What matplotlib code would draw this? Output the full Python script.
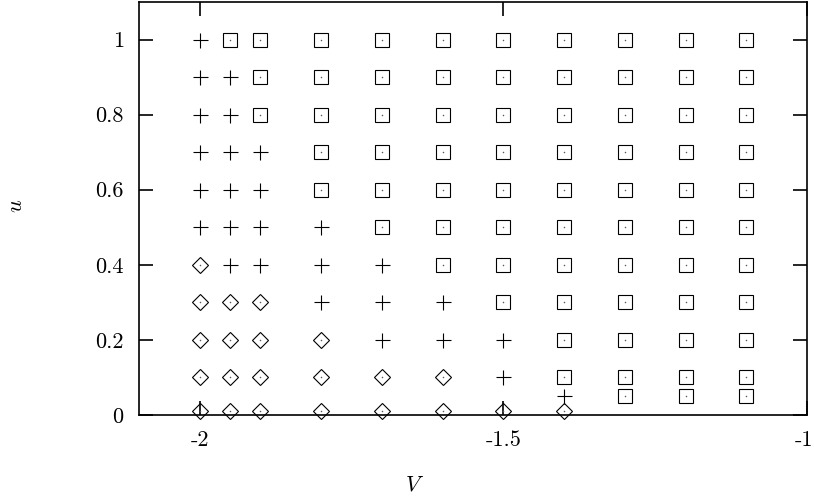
import matplotlib
matplotlib.use("Agg")
import matplotlib.pyplot as plt
from matplotlib.transforms import ScaledTranslation

plt.rcParams["mathtext.fontset"] = "cm"
plt.rcParams["axes.unicode_minus"] = False

# Points where the state is "+"
plus_V = [-2.0, -2.0, -2.0, -2.0, -2.0, -2.0,
          -1.95, -1.95, -1.95, -1.95, -1.95, -1.95,
          -1.9, -1.9, -1.9, -1.9,
          -1.8, -1.8, -1.8,
          -1.7, -1.7, -1.7,
          -1.6, -1.6,
          -1.5, -1.5,
          -1.4]
plus_u = [1.0, 0.9, 0.8, 0.7, 0.6, 0.5,
          0.9, 0.8, 0.7, 0.6, 0.5, 0.4,
          0.7, 0.6, 0.5, 0.4,
          0.5, 0.4, 0.3,
          0.4, 0.3, 0.2,
          0.3, 0.2,
          0.2, 0.1,
          0.05]

# Points where the state is a diamond
diamond_V = [-2.0, -2.0, -2.0, -2.0, -2.0,
             -1.95, -1.95, -1.95, -1.95,
             -1.9, -1.9, -1.9, -1.9,
             -1.8, -1.8, -1.8,
             -1.7, -1.7,
             -1.6, -1.6,
             -1.5,
             -1.4]
diamond_u = [0.4, 0.3, 0.2, 0.1, 0.01,
             0.3, 0.2, 0.1, 0.01,
             0.3, 0.2, 0.1, 0.01,
             0.2, 0.1, 0.01,
             0.1, 0.01,
             0.1, 0.01,
             0.01,
             0.01]

# Points where the state is a square
square_V = [-1.95,
            -1.9, -1.9, -1.9,
            -1.8, -1.8, -1.8, -1.8, -1.8,
            -1.7, -1.7, -1.7, -1.7, -1.7, -1.7,
            -1.6, -1.6, -1.6, -1.6, -1.6, -1.6, -1.6,
            -1.5, -1.5, -1.5, -1.5, -1.5, -1.5, -1.5, -1.5,
            -1.4, -1.4, -1.4, -1.4, -1.4, -1.4, -1.4, -1.4, -1.4, -1.4,
            -1.3, -1.3, -1.3, -1.3, -1.3, -1.3, -1.3, -1.3, -1.3, -1.3, -1.3,
            -1.2, -1.2, -1.2, -1.2, -1.2, -1.2, -1.2, -1.2, -1.2, -1.2, -1.2,
            -1.1, -1.1, -1.1, -1.1, -1.1, -1.1, -1.1, -1.1, -1.1, -1.1, -1.1]
square_u = [1.0,
            1.0, 0.9, 0.8,
            1.0, 0.9, 0.8, 0.7, 0.6,
            1.0, 0.9, 0.8, 0.7, 0.6, 0.5,
            1.0, 0.9, 0.8, 0.7, 0.6, 0.5, 0.4,
            1.0, 0.9, 0.8, 0.7, 0.6, 0.5, 0.4, 0.3,
            1.0, 0.9, 0.8, 0.7, 0.6, 0.5, 0.4, 0.3, 0.2, 0.1,
            1.0, 0.9, 0.8, 0.7, 0.6, 0.5, 0.4, 0.3, 0.2, 0.1, 0.05,
            1.0, 0.9, 0.8, 0.7, 0.6, 0.5, 0.4, 0.3, 0.2, 0.1, 0.05,
            1.0, 0.9, 0.8, 0.7, 0.6, 0.5, 0.4, 0.3, 0.2, 0.1, 0.05]

x_ticks = [-2.0, -1.5, -1.0]
x_tick_labels = ["-2", "-1.5", "-1"]
y_ticks = [0.0, 0.2, 0.4, 0.6, 0.8, 1.0]
y_tick_labels = ["0", "0.2", "0.4", "0.6", "0.8", "1"]

fig = plt.figure(figsize=(8.14, 4.98), dpi=100)
ax = fig.add_axes([139 / 814, 1 - 415 / 498, 668 / 814, 413 / 498])

mk = dict(linestyle="none", markerfacecolor="none", markeredgecolor="black",
          markeredgewidth=0.8, clip_on=False, zorder=3)
ax.plot(plus_V, plus_u, marker="+", markersize=10.8, **mk)
ax.plot(square_V, square_u, marker="s", markersize=10.4, **mk)
ax.plot(diamond_V, diamond_u, marker="D", markersize=7.8, **mk)

# small centre dot inside squares and diamonds
dot = dict(linestyle="none", marker="o", markersize=1.1, markeredgewidth=0,
           color="0.35", clip_on=False, zorder=3)
ax.plot(square_V, square_u, **dot)
ax.plot(diamond_V, diamond_u, **dot)

ax.set_xlim(-2.1, -1.0)
ax.set_ylim(0.0, 1.1)

ax.set_xticks(x_ticks)
ax.set_xticklabels(x_tick_labels, family="cmr10", fontsize=16)
ax.set_yticks(y_ticks)
ax.set_yticklabels(y_tick_labels, family="cmr10", fontsize=16)
ax.tick_params(direction="in", length=10, width=1.2, top=True, right=True,
               labeltop=False, labelright=False)
ax.tick_params(axis="x", pad=11)
ax.tick_params(axis="y", pad=11)

# keep the last x tick label inside the figure edge
last = ax.get_xticklabels()[-1]
last.set_transform(last.get_transform() +
                   ScaledTranslation(-3 / 100, 0, fig.dpi_scale_trans))

for sp in ax.spines.values():
    sp.set_linewidth(1.2)
    sp.set_zorder(4)

fig.text(415 / 814, 1 - 484 / 498, "$V$", fontsize=16, ha="center", va="center")
fig.text(16 / 814, 1 - 206 / 498, "$u$", fontsize=16, ha="center", va="center",
         rotation=90)

fig.savefig("out.png", dpi=100)
